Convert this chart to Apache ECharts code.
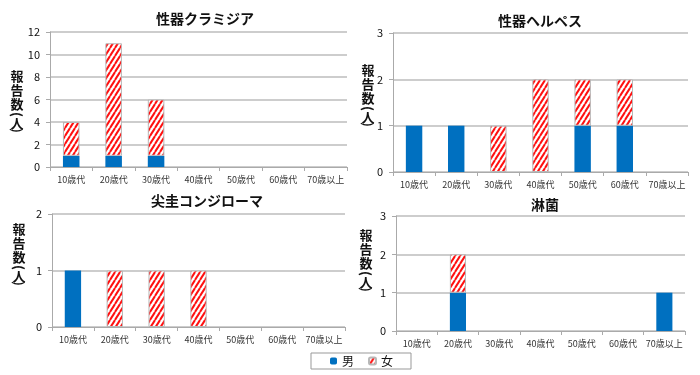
<!DOCTYPE html>
<html><head><meta charset="utf-8">
<script src="https://cdn.jsdelivr.net/npm/echarts@6/dist/echarts.min.js"></script>
<style>html,body{margin:0;padding:0;background:#fff}#c{width:700px;height:375px}</style>
</head><body><div id="c"></div>
<script>
var categories = ['10歳代','20歳代','30歳代','40歳代','50歳代','60歳代','70歳以上'];
var titles = ['性器クラミジア','性器ヘルペス','尖圭コンジローマ','淋菌'];
var chlamydiaMale   = [1,1,1,0,0,0,0];
var chlamydiaFemale = [3,10,5,0,0,0,0];
var herpesMale      = [1,1,0,0,1,1,0];
var herpesFemale    = [0,0,1,2,1,1,0];
var condylomaMale   = [1,0,0,0,0,0,0];
var condylomaFemale = [0,1,1,1,0,0,0];
var gonorrheaMale   = [0,1,0,0,0,0,1];
var gonorrheaFemale = [0,1,0,0,0,0,0];
var yMax = [12,3,2,3];
var yInterval = [2,1,1,1];
var legendNames = ['男','女'];
var yNameChars = ['報','告','数','(','人',')'];

var maleData = [chlamydiaMale, herpesMale, condylomaMale, gonorrheaMale];
var femaleData = [chlamydiaFemale, herpesFemale, condylomaFemale, gonorrheaFemale];

// hatch pattern
var pc = document.createElement('canvas');
pc.width = 5; pc.height = 8;
var g = pc.getContext('2d');
g.fillStyle = '#fff'; g.fillRect(0,0,5,8);
g.strokeStyle = '#ff1010'; g.lineWidth = 2;
for (var k = -2; k <= 2; k++) {
  g.beginPath();
  g.moveTo(k*5, 8); g.lineTo(k*5 + 5, 0);
  g.stroke();
}
var hatch = { image: pc, repeat: 'repeat' };

var grids = [
  {left: 50, top: 32, width: 297, height: 135},
  {left: 393, top: 33, width: 295, height: 139},
  {left: 52, top: 214, width: 293, height: 113},
  {left: 396, top: 216, width: 289, height: 115}
];
var titlePos = [[200,7],[535,9],[202,189],[540,193]];
var namePos = [[17,76],[368,70],[19,229],[366,235]];
var charOffsets = [0,14,28,38.5,47,54.5];

var nameGraphics = [];
namePos.forEach(function(p){
  yNameChars.forEach(function(c, j){
    var isParen = (c === '(' || c === ')');
    nameGraphics.push({
      type: 'text', x: p[0], y: p[1] + charOffsets[j],
      rotation: isParen ? -Math.PI/2 : 0,
      style: {
        text: c, fill: '#111', align: 'center', verticalAlign: 'middle',
        font: 'bold 13px "Noto Sans CJK JP"'
      }
    });
  });
});

var option = {
  animation: false,
  textStyle: {fontFamily: '"Noto Sans CJK JP", sans-serif'},
  title: titles.map(function(t,i){return {
    text: t, left: titlePos[i][0], top: titlePos[i][1], textAlign: 'center',
    textStyle: {fontSize: 14, fontWeight: 'bold', color: '#111', fontFamily: '"Noto Sans CJK JP", sans-serif'}
  };}),
  legend: {
    data: legendNames, left: 311, top: 353, itemWidth: 7, itemHeight: 7, itemGap: 14,
    padding: [2,18,2,19], borderColor: '#999', borderWidth: 1, borderRadius: 0,
    textStyle: {fontSize: 12, color: '#111'}
  },
  grid: grids,
  xAxis: grids.map(function(_,i){return {
    type: 'category', gridIndex: i, data: categories,
    axisLine: {lineStyle: {color: '#aaa', width: 1}},
    axisTick: {show: true, length: 4, lineStyle: {color: '#aaa'}},
    axisLabel: {fontSize: 9, color: '#333', margin: 8, interval: 0}
  };}),
  yAxis: grids.map(function(_,i){return {
    type: 'value', gridIndex: i, min: 0, max: yMax[i], interval: yInterval[i],
    axisLine: {show: true, lineStyle: {color: '#aaa'}},
    axisTick: {show: true, length: 4, lineStyle: {color: '#aaa'}},
    axisLabel: {fontSize: 11, color: '#111', margin: 10},
    splitLine: {lineStyle: {color: '#bdbdbd', width: 1.5}}
  };}),
  graphic: nameGraphics,
  series: []
};
for (var i = 0; i < 4; i++) {
  option.series.push({
    name: legendNames[0], type: 'bar', stack: 's' + i, xAxisIndex: i, yAxisIndex: i,
    data: maleData[i], barWidth: '39%',
    itemStyle: {color: '#0070c0'}
  });
  option.series.push({
    name: legendNames[1], type: 'bar', stack: 's' + i, xAxisIndex: i, yAxisIndex: i,
    data: femaleData[i].map(function(v){return v === 0 ? '-' : v;}), barWidth: '39%',
    itemStyle: {color: hatch, borderColor: '#b8b8b8', borderWidth: 1}
  });
}
var chart = echarts.init(document.getElementById('c'), null, {renderer: 'canvas'});
chart.setOption(option);
</script></body></html>
